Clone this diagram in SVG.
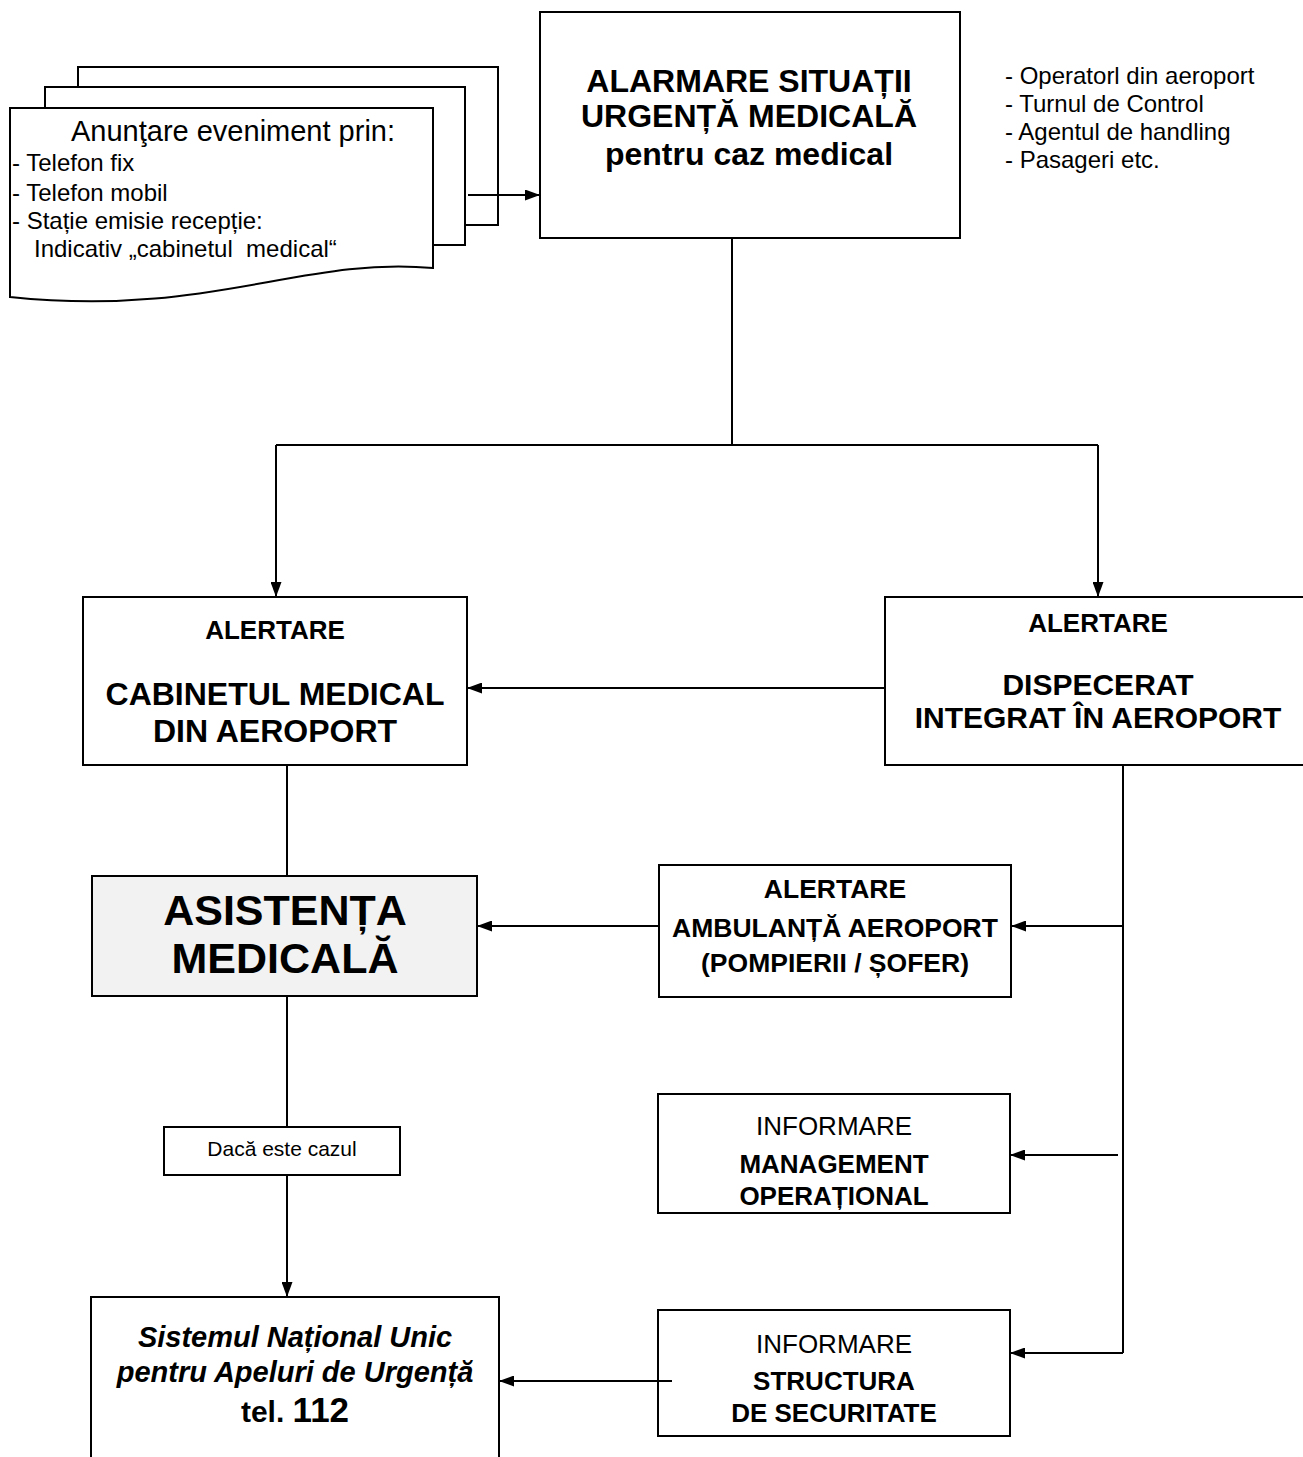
<svg xmlns="http://www.w3.org/2000/svg" width="1303" height="1457" viewBox="0 0 1303 1457">
<defs>
<marker id="ah" viewBox="0 0 15 11" refX="15" refY="5.5" markerWidth="15" markerHeight="11" markerUnits="userSpaceOnUse" orient="auto">
<path d="M0,0 L15,5.5 L0,11 Z" fill="#000"/>
</marker>
<style>
text{font-family:"Liberation Sans",Arial,sans-serif;fill:#000}
.b{font-weight:bold}
.m{text-anchor:middle}
.box{fill:#fff;stroke:#000;stroke-width:2}
.ln{fill:none;stroke:#000;stroke-width:2}
.arr{fill:none;stroke:#000;stroke-width:2;marker-end:url(#ah)}
</style>
</defs>
<rect width="1303" height="1457" fill="#fff"/>

<g id="anuntare">
<rect class="box" x="78" y="67" width="420" height="158"/>
<rect class="box" x="45" y="87" width="420" height="158"/>
<path class="box" d="M10,108 H433 V268 C300,256 210,318 10,297 Z"/>
<text x="233" y="141" class="m" font-size="29">Anunţare eveniment prin:</text>
<text x="12" y="171" font-size="24">- Telefon fix</text>
<text x="12" y="201" font-size="24">- Telefon mobil</text>
<text x="12" y="229" font-size="24">- Stație emisie recepție:</text>
<text x="34" y="257" font-size="24" xml:space="preserve">Indicativ „cabinetul  medical“</text>
</g>

<g id="alarmare">
<rect class="box" x="540" y="12" width="420" height="226"/>
<text x="749" y="92" class="b m" font-size="32">ALARMARE SITUAȚII</text>
<text x="749" y="127" class="b m" font-size="32">URGENȚĂ MEDICALĂ</text>
<text x="749" y="165" class="b m" font-size="32">pentru caz medical</text>
</g>

<g id="surse">
<text x="1005" y="84" font-size="24">- Operatorl din aeroport</text>
<text x="1005" y="112" font-size="24">- Turnul de Control</text>
<text x="1005" y="140" font-size="24">- Agentul de handling</text>
<text x="1005" y="168" font-size="24">- Pasageri etc.</text>
</g>

<g id="cabinet">
<rect class="box" x="83" y="597" width="384" height="168"/>
<text x="275" y="639" class="b m" font-size="26">ALERTARE</text>
<text x="275" y="705" class="b m" font-size="32">CABINETUL MEDICAL</text>
<text x="275" y="742" class="b m" font-size="32">DIN AEROPORT</text>
</g>

<g id="dispecerat">
<rect class="box" x="885" y="597" width="430" height="168"/>
<text x="1098" y="632" class="b m" font-size="26">ALERTARE</text>
<text x="1098" y="695" class="b m" font-size="30">DISPECERAT</text>
<text x="1098" y="728" class="b m" font-size="30">INTEGRAT ÎN AEROPORT</text>
</g>

<g id="asistenta">
<rect x="92" y="876" width="385" height="120" fill="#f2f2f2" stroke="#000" stroke-width="2"/>
<text x="285" y="925" class="b m" font-size="43">ASISTENȚA</text>
<text x="285" y="973" class="b m" font-size="43">MEDICALĂ</text>
</g>

<g id="ambulanta">
<rect class="box" x="659" y="865" width="352" height="132"/>
<text x="835" y="898" class="b m" font-size="26.5">ALERTARE</text>
<text x="835" y="937" class="b m" font-size="26.5">AMBULANȚĂ AEROPORT</text>
<text x="835" y="972" class="b m" font-size="26.5">(POMPIERII / ȘOFER)</text>
</g>

<g id="management">
<rect class="box" x="658" y="1094" width="352" height="119"/>
<text x="834" y="1135" class="m" font-size="26">INFORMARE</text>
<text x="834" y="1173" class="b m" font-size="26">MANAGEMENT</text>
<text x="834" y="1205" class="b m" font-size="26">OPERAȚIONAL</text>
</g>

<g id="daca">
<rect class="box" x="164" y="1127" width="236" height="48"/>
<text x="282" y="1156" class="m" font-size="21">Dacă este cazul</text>
</g>

<g id="sistemul">
<path class="box" d="M91,1470 V1297 H499 V1470"/>
<text x="295" y="1347" class="b m" font-size="29" font-style="italic">Sistemul Național Unic</text>
<text x="295" y="1382" class="b m" font-size="29" font-style="italic">pentru Apeluri de Urgență</text>
<text x="295" y="1422" class="b m"><tspan font-size="30">tel. </tspan><tspan font-size="35">112</tspan></text>
</g>

<g id="structura">
<rect class="box" x="658" y="1310" width="352" height="126"/>
<text x="834" y="1353" class="m" font-size="26">INFORMARE</text>
<text x="834" y="1390" class="b m" font-size="26">STRUCTURA</text>
<text x="834" y="1422" class="b m" font-size="26">DE SECURITATE</text>
</g>

<g id="connectors">
<path class="arr" d="M468,195 H540"/>
<path class="ln" d="M732,238 V445"/>
<path class="ln" d="M276,445 H1098"/>
<path class="arr" d="M276,445 V597"/>
<path class="arr" d="M1098,445 V597"/>
<path class="arr" d="M885,688 H467"/>
<path class="ln" d="M287,765 V876"/>
<path class="ln" d="M287,996 V1127"/>
<path class="arr" d="M287,1175 V1297"/>
<path class="ln" d="M1123,765 V1353"/>
<path class="arr" d="M1123,926 H1011"/>
<path class="arr" d="M1118,1155 H1010"/>
<path class="arr" d="M1123,1353 H1010"/>
<path class="arr" d="M659,926 H477"/>
<path class="arr" d="M672,1381 H499"/>
</g>
</svg>
